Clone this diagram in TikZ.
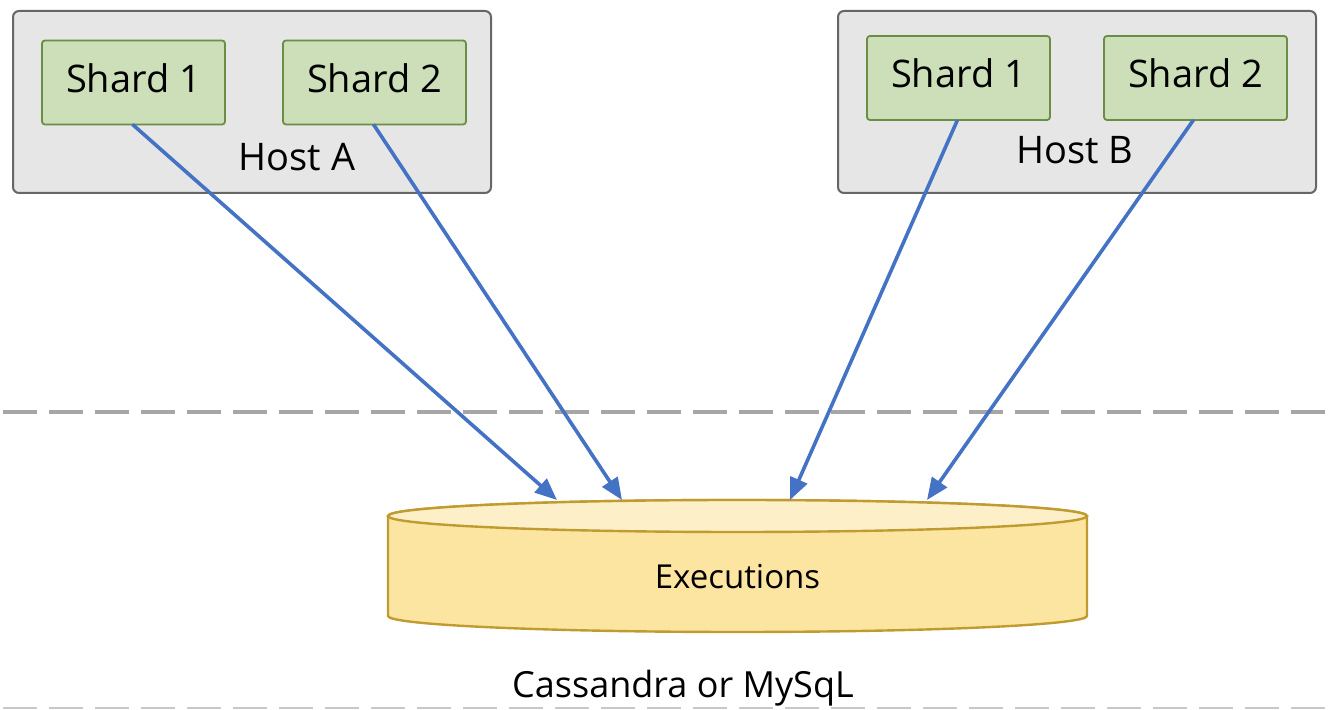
\documentclass[tikz,border=0pt]{standalone}
\usepackage{fontspec}
\setmainfont{Open Sans}
\usetikzlibrary{arrows.meta}
\definecolor{hostfill}{HTML}{E6E6E6}
\definecolor{hostline}{HTML}{666666}
\definecolor{shardfill}{HTML}{CCDFB8}
\definecolor{shardline}{HTML}{6A8E44}
\definecolor{cylbody}{HTML}{FCE5A1}
\definecolor{cyltop}{HTML}{FDF0C8}
\definecolor{cylline}{HTML}{BF9B30}
\definecolor{arrowblue}{HTML}{4472C4}
\definecolor{dashgray}{HTML}{A6A6A6}
\definecolor{dashlight}{HTML}{C8C8C8}
\begin{document}
\begin{tikzpicture}[x=0.5pt,y=0.5pt,
  hostbox/.style={draw=hostline,fill=hostfill,line width=1pt,rounded corners=3pt,minimum width=239pt,minimum height=91pt,inner sep=0pt},
  shardbox/.style={draw=shardline,fill=shardfill,line width=0.9pt,rounded corners=1.5pt,minimum width=91.5pt,minimum height=42pt,inner sep=0pt,text height=14pt,text depth=4pt,font=\fontsize{19}{22}\selectfont},
  hostlabel/.style={font=\fontsize{19}{22}\selectfont,inner sep=0pt},
  link/.style={draw=arrowblue,line width=1.8pt,-{Triangle[length=11pt,width=9pt]}},
  sep/.style={draw=dashgray,line width=2pt,dash pattern=on 17pt off 6pt}
]
\useasboundingbox (0,0) rectangle (1330,-710);
% hosts
\node[hostbox] (hostA) at (252,-102) {};
\node[hostbox] (hostB) at (1077,-102) {};
\node[shardbox] (a1) at (133.5,-82.5) {Shard 1};
\node[shardbox] (a2) at (374.5,-82.5) {Shard 2};
\node[shardbox] (b1) at (958.5,-78) {Shard 1};
\node[shardbox] (b2) at (1195.5,-78) {Shard 2};
\node[hostlabel] (la) at (297,-157) {Host A};
\node[hostlabel] (lb) at (1075,-150) {Host B};
% separators
\coordinate (s1l) at (3,-412);
\coordinate (s1r) at (1330,-412);
\draw[sep] (s1l) -- (s1r);
\coordinate (s2l) at (3,-708);
\coordinate (s2r) at (1330,-708);
\draw[draw=dashlight,line width=0.8pt,dash pattern=on 17pt off 6pt] (s2l) -- (s2r);
% cylinder
\path[fill=cylbody,draw=cylline,line width=1.2pt] (388,-516) -- (388,-616)
  arc[start angle=180,end angle=360,x radius=349.5,y radius=16] -- (1087,-516)
  arc[start angle=0,end angle=180,x radius=349.5,y radius=16] -- cycle;
\draw[fill=cyltop,draw=cylline,line width=1.2pt] (737.5,-516) ellipse[x radius=349.5,y radius=16];
\node[font=\fontsize{16.5}{20}\selectfont,inner sep=0pt] (db) at (737.5,-577) {Executions};
\node[font=\fontsize{18}{22}\selectfont,inner sep=0pt] (cm) at (683,-688) {Cassandra or MySqL};
% arrow targets on cylinder top
\coordinate (t1) at (557,-500);
\coordinate (t2) at (622,-500);
\coordinate (t3) at (790,-500);
\coordinate (t4) at (927,-500);
\draw[link] (a1.south) ++(-1,1) -- (t1);
\draw[link] (a2.south) ++(-1,1) -- (t2);
\draw[link] (b1.south) ++(-1,1) -- (t3);
\draw[link] (b2.south) ++(-2,1) -- (t4);
\end{tikzpicture}
\end{document}
